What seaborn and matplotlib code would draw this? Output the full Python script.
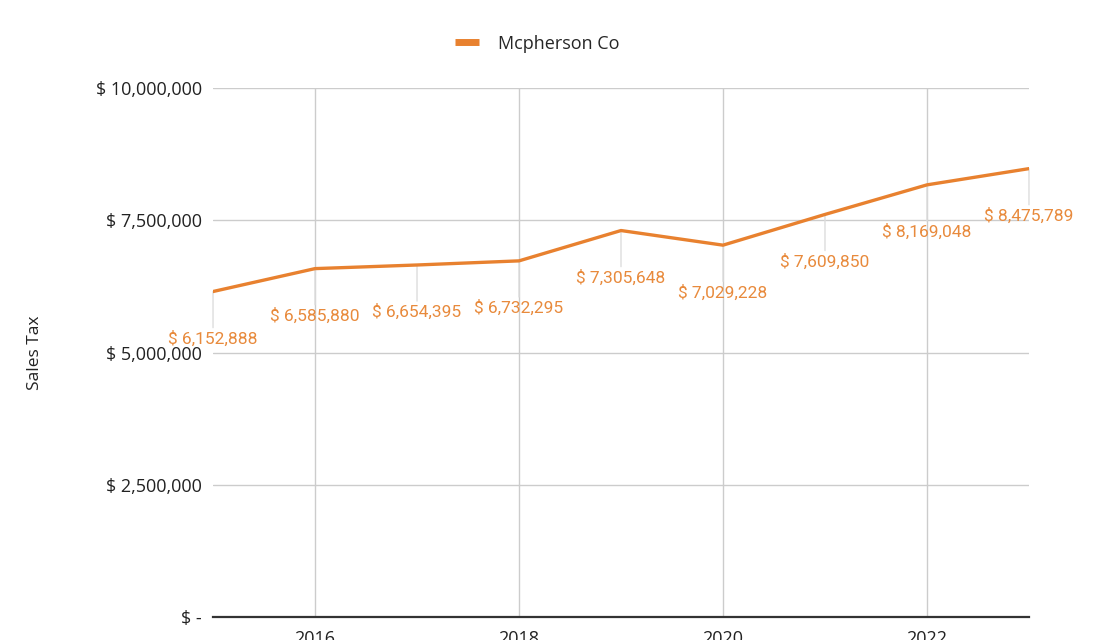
import matplotlib
matplotlib.use("Agg")
import matplotlib.pyplot as plt
import matplotlib.ticker as mticker
import numpy as np
import pandas as pd
import seaborn as sns

years = [2015, 2016, 2017, 2018, 2019, 2020, 2021, 2022, 2023]
sales_tax = [6152888, 6585880, 6654395, 6732295, 7305648, 7029228, 7609850, 8169048, 8475789]
series_name = "Mcpherson Co"
y_ticks = [0, 2500000, 5000000, 7500000, 10000000]
x_ticks = [2016, 2018, 2020, 2022]

ORANGE = "#e8812f"
GRID = "#cccccc"

df = pd.DataFrame({"Year": years, "Sales Tax": sales_tax, "County": series_name})

sns.set_style("white")
plt.rcParams["font.family"] = ["Open Sans", "DejaVu Sans"]

fig = plt.figure(figsize=(11.13, 6.4), dpi=100)
ax = fig.add_axes([0.1914, 0.0359, 0.7331, 0.8266])

sns.lineplot(data=df, x="Year", y="Sales Tax", hue="County", palette=[ORANGE],
             linewidth=2.4, ax=ax, legend=False, zorder=4)

ax.set_xlim(2015, 2023)
ax.set_ylim(0, 10000000)
ax.set_yticks(y_ticks)
ax.set_xticks(x_ticks)


def money(v, _pos=None):
    return "$ -" if v == 0 else f"$ {v:,.0f}"


ax.yaxis.set_major_formatter(mticker.FuncFormatter(money))
ax.grid(True, color=GRID, linewidth=1.0)
ax.set_axisbelow(True)
for side in ["top", "right", "left"]:
    ax.spines[side].set_visible(False)
ax.spines["bottom"].set_color("#333333")
ax.spines["bottom"].set_linewidth(1.6)
ax.spines["bottom"].set_zorder(5)
ax.tick_params(axis="both", length=0, labelsize=13, colors="#222222")
ax.tick_params(axis="y", pad=8)
ax.tick_params(axis="x", pad=9)
ax.set_xlabel("")
ax.set_ylabel("Sales Tax", fontsize=12.5, color="#222222", labelpad=38)

# data labels with short leader lines below each point
for x, y in zip(years, sales_tax):
    ax.annotate(money(y), xy=(x, y), xytext=(0, -34), textcoords="offset points",
                ha="center", va="center", fontsize=12.5, color="#e88a3c",
                family=["Roboto", "DejaVu Sans"], zorder=6,
                annotation_clip=False)
    ax.annotate("", xy=(x, y), xytext=(0, -26), textcoords="offset points",
                arrowprops=dict(arrowstyle="-", color="#dddddd", lw=1.0,
                                shrinkA=0, shrinkB=0),
                zorder=2, annotation_clip=False)

handle = plt.Line2D([], [], color=ORANGE, linewidth=5, solid_capstyle="butt")
fig.legend([handle], [series_name], loc="center", bbox_to_anchor=(0.483, 0.932),
           frameon=False, fontsize=13, handlelength=1.3, handletextpad=1.1)

fig.savefig("out.png", dpi=100)
